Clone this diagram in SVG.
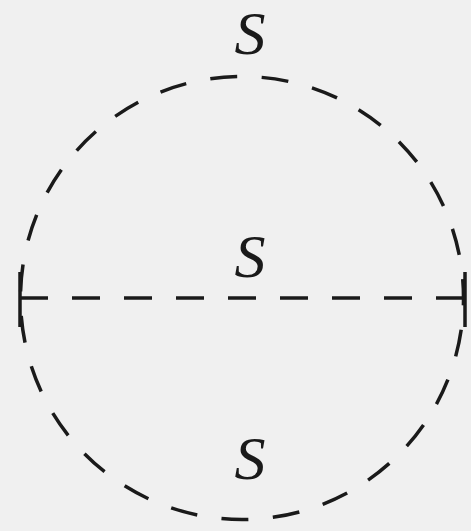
<svg xmlns="http://www.w3.org/2000/svg" width="471" height="531" viewBox="0 0 471 531">
<style>
.ln{fill:none;stroke:#1a1a1a;stroke-width:3.5}
.lbl{font-family:"Liberation Serif","DejaVu Serif",serif;font-style:italic;font-size:62px;fill:#1a1a1a;text-anchor:middle}
</style>
<rect width="471" height="531" fill="#f0f0f0"/>
<g id="connectors">
<circle id="loop" class="ln" cx="242" cy="298" r="221.5" stroke-dasharray="27 24.55" stroke-dashoffset="19.5"/>
<line id="chord" class="ln" x1="20" y1="298" x2="464" y2="298" stroke-dasharray="28 24"/>
<line class="ln" x1="20" y1="272" x2="20" y2="327"/>
<line class="ln" x1="465" y1="272" x2="465" y2="327"/>
</g>
<g id="label-top"><text class="lbl" x="250" y="54">S</text></g>
<g id="label-mid"><text class="lbl" x="250" y="277">S</text></g>
<g id="label-bot"><text class="lbl" x="250" y="479">S</text></g>
</svg>
